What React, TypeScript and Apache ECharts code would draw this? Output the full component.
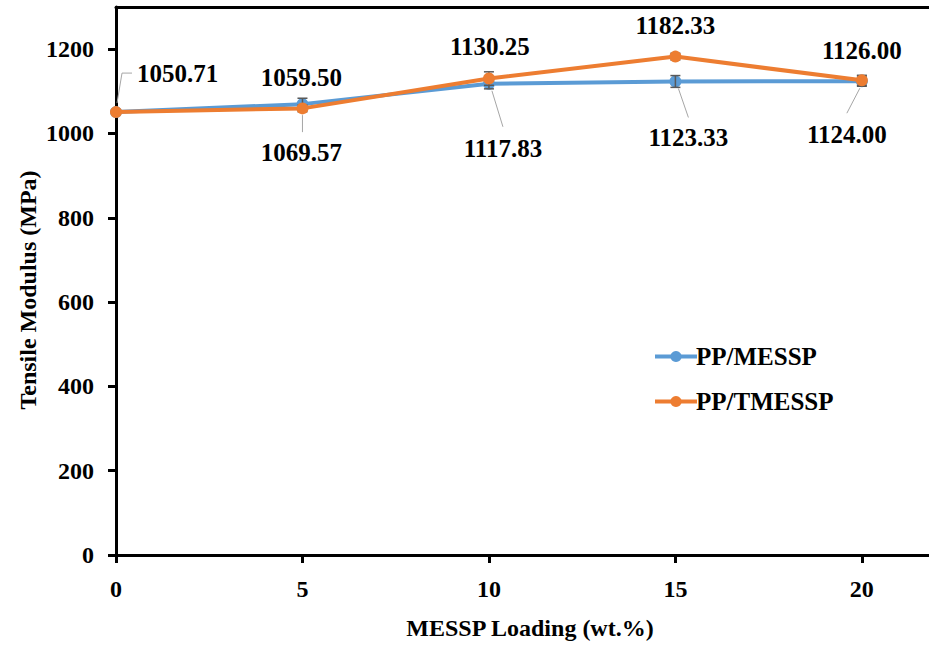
import React, { useEffect, useRef } from "react";
import * as echarts from "echarts";

// MESSP loading (wt.%)
const loadings = [0, 5, 10, 15, 20];
// Tensile modulus (MPa)
const ppMessp = [1050.71, 1069.57, 1117.83, 1123.33, 1124.0];
const ppTmessp = [1050.71, 1059.5, 1130.25, 1182.33, 1126.0];
// Standard deviations (MPa)
const ppMesspErr = [5, 14, 12, 14, 12];
const ppTmesspErr = [5, 8, 16, 8, 12];

const yTicks = [0, 200, 400, 600, 800, 1000, 1200];

const BLUE = "#5B9BD5";
const ORANGE = "#ED7D31";
const FONT = "'Liberation Serif', 'Times New Roman', serif";

// Placement of each value label relative to its marker (pixels),
// with an optional leader line drawn from the marker.
type LabelSpec = {
  series: "blue" | "orange";
  idx: number;
  dx: number;
  dy: number;
  align?: "left" | "center";
  leader?: number[][];
};
const labelSpecs: LabelSpec[] = [
  { series: "orange", idx: 0, dx: 21, dy: -39, align: "left", leader: [[1, -9], [6, -39], [16, -39]] },
  { series: "orange", idx: 1, dx: -1, dy: -31 },
  { series: "blue", idx: 1, dx: -1, dy: 48, leader: [[0, 11], [0, 28]] },
  { series: "orange", idx: 2, dx: 1, dy: -32 },
  { series: "blue", idx: 2, dx: 14, dy: 65, leader: [[3, 7], [14, 43]] },
  { series: "orange", idx: 3, dx: 0, dy: -31 },
  { series: "blue", idx: 3, dx: 13, dy: 56, leader: [[3, 7], [13, 36]] },
  { series: "orange", idx: 4, dx: 0, dy: -30 },
  { series: "blue", idx: 4, dx: -15, dy: 53, leader: [[-2, 7], [-15, 32]] },
];

function errorSeries(values: number[], errs: number[], name: string) {
  return {
    type: "custom",
    name: name + "-err",
    z: 4,
    silent: true,
    data: loadings.map((x, i) => [x, values[i], errs[i]]),
    renderItem: (params: any, api: any) => {
      const x = api.value(0);
      const y = api.value(1);
      const e = api.value(2);
      const top = api.coord([x, y + e]);
      const bot = api.coord([x, y - e]);
      const w = 5;
      const style = { stroke: "#595959", lineWidth: 1.5 };
      return {
        type: "group",
        children: [
          { type: "line", shape: { x1: top[0], y1: top[1], x2: bot[0], y2: bot[1] }, style },
          { type: "line", shape: { x1: top[0] - w, y1: top[1], x2: top[0] + w, y2: top[1] }, style },
          { type: "line", shape: { x1: bot[0] - w, y1: bot[1], x2: bot[0] + w, y2: bot[1] }, style },
        ],
      };
    },
  };
}

export default function App() {
  const ref = useRef<HTMLDivElement>(null);

  useEffect(() => {
    if (!ref.current) return;
    const chart = echarts.init(ref.current, undefined, { renderer: "svg" });

    const axisLine = { show: true, lineStyle: { color: "#000", width: 3 } };
    const labelFont = { color: "#000", fontFamily: FONT, fontWeight: "bold" as const, fontSize: 24 };

    chart.setOption({
      animation: false,
      backgroundColor: "#fff",
      grid: { left: 116, right: 0, top: 7, bottom: 90 },
      xAxis: [
        {
          type: "value",
          min: 0,
          max: 21.8,
          interval: 5,
          axisLine,
          axisTick: { show: true, length: 8, lineStyle: { color: "#000", width: 3 } },
          axisLabel: { ...labelFont, margin: 22, showMaxLabel: false },
          splitLine: { show: false },
        },
        {
          type: "value",
          position: "top",
          min: 0,
          max: 21.8,
          axisLine,
          axisTick: { show: false },
          axisLabel: { show: false },
          splitLine: { show: false },
        },
      ],
      yAxis: {
        type: "value",
        min: 0,
        max: 1300,
        interval: 200,
        axisLine,
        axisTick: { show: true, length: 8, lineStyle: { color: "#000", width: 3 } },
        axisLabel: {
          ...labelFont,
          margin: 22,
          showMaxLabel: false,
          formatter: (v: number) => (yTicks.includes(v) ? String(v) : ""),
        },
        splitLine: { show: false },
      },
      legend: {
        data: ["PP/MESSP", "PP/TMESSP"],
        orient: "vertical",
        left: 648,
        top: 339,
        itemWidth: 42,
        itemHeight: 14,
        itemGap: 20,
        lineStyle: { width: 4 },
        textStyle: { ...labelFont, fontSize: 25, padding: [0, 0, 0, -6] },
      },
      graphic: [
        {
          type: "text",
          x: 28,
          y: 290,
          rotation: Math.PI / 2,
          style: {
            text: "Tensile Modulus (MPa)",
            fill: "#000",
            font: `bold 24px ${FONT}`,
            align: "center",
            verticalAlign: "middle",
          },
        },
        {
          type: "text",
          x: 530,
          y: 628,
          style: {
            text: "MESSP Loading (wt.%)",
            fill: "#000",
            font: `bold 24px ${FONT}`,
            align: "center",
            verticalAlign: "middle",
          },
        },
      ],
      series: [
        {
          name: "PP/MESSP",
          type: "line",
          z: 3,
          data: loadings.map((x, i) => [x, ppMessp[i]]),
          symbol: "circle",
          symbolSize: 12,
          itemStyle: { color: BLUE },
          lineStyle: { color: BLUE, width: 4 },
        },
        errorSeries(ppMessp, ppMesspErr, "PP/MESSP"),
        {
          name: "PP/TMESSP",
          type: "line",
          z: 5,
          data: loadings.map((x, i) => [x, ppTmessp[i]]),
          symbol: "circle",
          symbolSize: 12,
          itemStyle: { color: ORANGE },
          lineStyle: { color: ORANGE, width: 4 },
        },
        errorSeries(ppTmessp, ppTmesspErr, "PP/TMESSP"),
        {
          type: "custom",
          name: "value-labels",
          z: 6,
          silent: true,
          data: labelSpecs.map((s) => [loadings[s.idx], (s.series === "blue" ? ppMessp : ppTmessp)[s.idx]]),
          renderItem: (params: any, api: any) => {
            const spec = labelSpecs[params.dataIndex];
            const v = api.value(1);
            const p = api.coord([api.value(0), v]);
            const children: any[] = [];
            if (spec.leader) {
              children.push({
                type: "polyline",
                shape: { points: spec.leader.map(([ox, oy]) => [p[0] + ox, p[1] + oy]) },
                style: { stroke: "#a6a6a6", lineWidth: 1, fill: "none" },
              });
            }
            children.push({
              type: "text",
              x: p[0] + spec.dx,
              y: p[1] + spec.dy,
              style: {
                text: v.toFixed(2),
                fill: "#000",
                font: `bold 25px ${FONT}`,
                align: spec.align || "center",
                verticalAlign: "middle",
              },
            });
            return { type: "group", children };
          },
        },
      ],
    });

    return () => chart.dispose();
  }, []);

  return (
    <div
      ref={ref}
      style={{ position: "absolute", left: 0, top: 0, width: 929, height: 645 }}
    />
  );
}
